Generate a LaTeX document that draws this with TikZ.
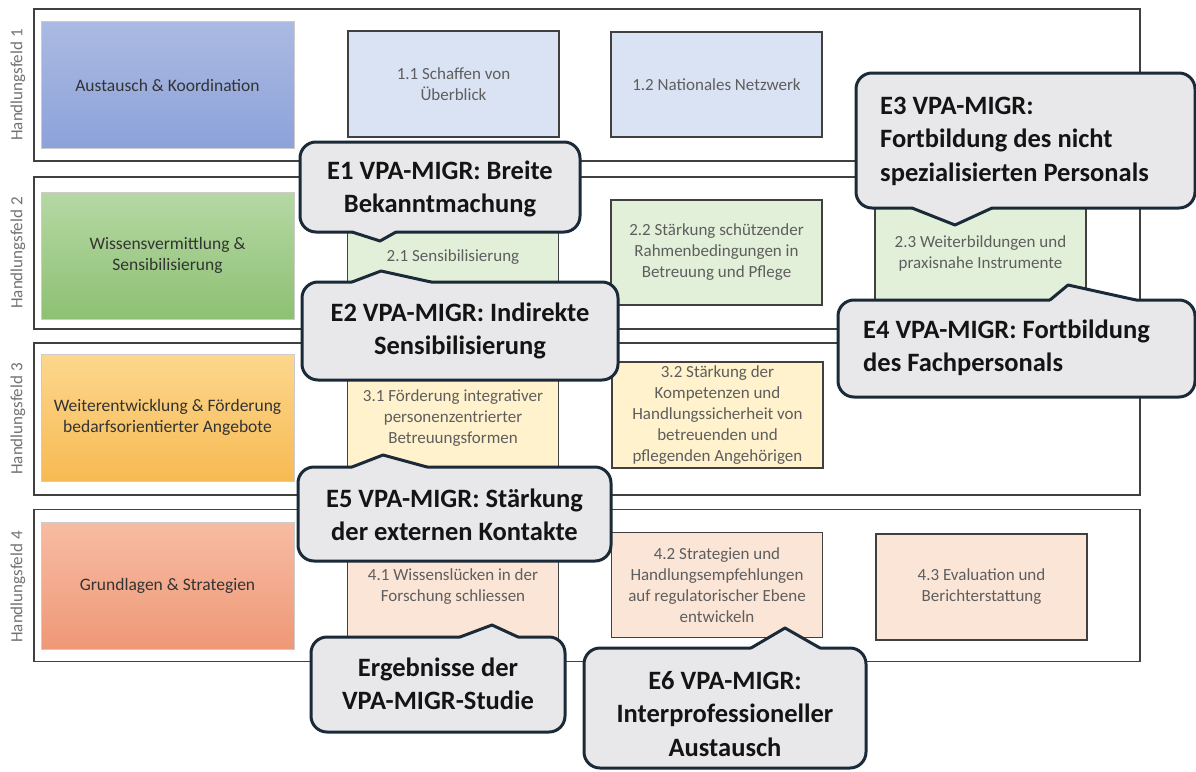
\documentclass[tikz,border=0pt]{standalone}
\usepackage{fontspec}
\setmainfont{Carlito}
\definecolor{calloutfill}{HTML}{E8E8EA}
\definecolor{calloutline}{HTML}{1B2A38}
\definecolor{frameline}{HTML}{404040}
\definecolor{subtext}{HTML}{5E5E5E}
\definecolor{cattext}{HTML}{333333}
\definecolor{bluetop}{HTML}{ABBAE2}
\definecolor{bluebot}{HTML}{8CA2D9}
\definecolor{greentop}{HTML}{B6D8A4}
\definecolor{greenbot}{HTML}{8DC173}
\definecolor{yeltop}{HTML}{FDD78E}
\definecolor{yelbot}{HTML}{F6BA52}
\definecolor{redtop}{HTML}{F7BCA3}
\definecolor{redbot}{HTML}{EF9877}
\definecolor{subblue}{HTML}{DAE3F3}
\definecolor{subgreen}{HTML}{E2F0D9}
\definecolor{subyel}{HTML}{FFF2CC}
\definecolor{subred}{HTML}{FBE5D6}
\begin{document}
\begin{tikzpicture}[x=1pt,y=-1pt,
  rowframe/.style={draw=frameline, line width=1.4pt, fill=white},
  catbox/.style={draw=black!20, line width=0.6pt, text=cattext, align=center,
     font=\fontsize{17.5}{21}\selectfont, minimum width=253pt, minimum height=127pt},
  subbox/.style={draw=frameline, line width=1.4pt, text=subtext, align=center,
     font=\fontsize{17}{21}\selectfont, minimum width=211pt, inner sep=2pt},
  rowlabel/.style={text=black!55, font=\fontsize{17}{20}\selectfont, rotate=90},
  callbox/.style={draw=calloutline, fill=calloutfill, line width=3pt, rounded corners=16pt},
  calltext/.style={text=black!92, font=\bfseries\fontsize{26.5}{33.5}\selectfont, inner sep=0pt},
  ptrline/.style={draw=calloutline, line width=3pt, line join=round, line cap=round},
]
\useasboundingbox (0,0) rectangle (1196,771);
\fill[white] (0,0) rectangle (1196,771);

% row frames
\node[rowframe, minimum width=1106pt, minimum height=152pt] (r1) at (587,85) {};
\node[rowframe, minimum width=1106pt, minimum height=152pt] (r2) at (587,253) {};
\node[rowframe, minimum width=1106pt, minimum height=152pt] (r3) at (587,419) {};
\node[rowframe, minimum width=1106pt, minimum height=152pt] (r4) at (587,585.5) {};

% row labels
\node[rowlabel] (l1) at (18,85) {Handlungsfeld 1};
\node[rowlabel] (l2) at (18,253) {Handlungsfeld 2};
\node[rowlabel] (l3) at (18,419) {Handlungsfeld 3};
\node[rowlabel] (l4) at (18,587) {Handlungsfeld 4};

% category boxes
\node[catbox, top color=bluetop, bottom color=bluebot] (c1) at (167.5,85) {Austausch \& Koordination};
\node[catbox, top color=greentop, bottom color=greenbot] (c2) at (167.5,255.5) {Wissensvermittlung \&\\Sensibilisierung};
\node[catbox, top color=yeltop, bottom color=yelbot] (c3) at (167.5,417.5) {Weiterentwicklung \& Förderung\\bedarfsorientierter Angebote};
\node[catbox, top color=redtop, bottom color=redbot] (c4) at (167.5,585.5) {Grundlagen \& Strategien};

% sub boxes
\node[subbox, fill=subblue, minimum height=106pt] (b11) at (453.5,84) {1.1 Schaffen von\\Überblick};
\node[subbox, fill=subblue, minimum height=105pt] (b12) at (716.5,84.5) {1.2 Nationales Netzwerk};
\node[subbox, fill=subgreen, minimum height=108pt] (b21) at (453,257) {2.1 Sensibilisierung};
\node[subbox, fill=subgreen, minimum height=105pt] (b22) at (716.5,252.5) {2.2 Stärkung schützender\\Rahmenbedingungen in\\Betreuung und Pflege};
\node[subbox, fill=subgreen, minimum height=105pt] (b23) at (980.5,253) {2.3 Weiterbildungen und\\praxisnahe Instrumente};
\node[subbox, fill=subyel, minimum height=110pt] (b31) at (453,418) {3.1 Förderung integrativer\\personenzentrierter\\Betreuungsformen};
\node[subbox, fill=subyel, minimum height=106pt] (b32) at (717.5,415) {3.2 Stärkung der\\Kompetenzen und\\Handlungssicherheit von\\betreuenden und\\pflegenden Angehörigen};
\node[subbox, fill=subred, minimum height=106pt] (b41) at (453,587) {4.1 Wissenslücken in der\\Forschung schliessen};
\node[subbox, fill=subred, minimum height=105pt] (b42) at (717,585) {4.2 Strategien und\\Handlungsempfehlungen\\auf regulatorischer Ebene\\entwickeln};
\node[subbox, fill=subred, minimum height=106pt] (b43) at (981.5,587) {4.3 Evaluation und\\Berichterstattung};

% ---------- callouts ----------
% E1 (pointer down)
\node[callbox, minimum width=280pt, minimum height=90pt] (e1) at (440,187) {};
\coordinate (e1a) at (352,232); \coordinate (e1p) at (380,241); \coordinate (e1b) at (396,232);
\fill[calloutfill] (352,228) -- (e1a) -- (e1p) -- (e1b) -- (396,228) -- cycle;
\draw[ptrline] (e1a) -- (e1p) -- (e1b);
\node[calltext, align=center] (e1t) at (440,189) {E1 VPA-MIGR: Breite\\Bekanntmachung};

% E2 (pointer up)
\node[callbox, minimum width=316pt, minimum height=98pt] (e2) at (460,331) {};
\coordinate (e2a) at (352,282); \coordinate (e2p) at (381,271); \coordinate (e2b) at (431,282);
\fill[calloutfill] (352,286) -- (e2a) -- (e2p) -- (e2b) -- (431,286) -- cycle;
\draw[ptrline] (e2a) -- (e2p) -- (e2b);
\node[calltext, align=center] (e2t) at (460,331) {E2 VPA-MIGR: Indirekte\\Sensibilisierung};

% E3 (pointer down)
\node[callbox, minimum width=339pt, minimum height=135pt] (e3) at (1025.5,140.5) {};
\coordinate (e3a) at (912,208); \coordinate (e3p) at (955,225); \coordinate (e3b) at (992,208);
\fill[calloutfill] (912,204) -- (e3a) -- (e3p) -- (e3b) -- (992,204) -- cycle;
\draw[ptrline] (e3a) -- (e3p) -- (e3b);
\node[calltext, align=left, anchor=west] (e3t) at (880,141) {E3 VPA-MIGR:\\Fortbildung des nicht\\spezialisierten Personals};

% E4 (pointer up, asymmetric)
\node[callbox, minimum width=357pt, minimum height=97pt] (e4) at (1016.5,348.5) {};
\coordinate (e4a) at (1050,300); \coordinate (e4p) at (1068,285); \coordinate (e4b) at (1136,300);
\fill[calloutfill] (1050,304) -- (e4a) -- (e4p) -- (e4b) -- (1136,304) -- cycle;
\draw[ptrline] (e4a) -- (e4p) -- (e4b);
\node[calltext, align=left, anchor=west] (e4t) at (863,348) {E4 VPA-MIGR: Fortbildung\\des Fachpersonals};

% E5 (pointer up)
\node[callbox, minimum width=313pt, minimum height=94pt] (e5) at (454.5,514) {};
\coordinate (e5a) at (352,467); \coordinate (e5p) at (383,455); \coordinate (e5b) at (427,467);
\fill[calloutfill] (352,471) -- (e5a) -- (e5p) -- (e5b) -- (427,471) -- cycle;
\draw[ptrline] (e5a) -- (e5p) -- (e5b);
\node[calltext, align=center] (e5t) at (454.5,515) {E5 VPA-MIGR: Stärkung\\der externen Kontakte};

% Ergebnisse (pointer up)
\node[callbox, minimum width=254pt, minimum height=95pt] (er) at (438,684.5) {};
\coordinate (era) at (460,637); \coordinate (erp) at (492,625); \coordinate (erb) at (518,637);
\fill[calloutfill] (460,641) -- (era) -- (erp) -- (erb) -- (518,641) -- cycle;
\draw[ptrline] (era) -- (erp) -- (erb);
\node[calltext, align=center] (ert) at (438,684) {Ergebnisse der\\VPA-MIGR-Studie};

% E6 (pointer up)
\node[callbox, minimum width=282pt, minimum height=120pt] (e6) at (725,708) {};
\coordinate (e6a) at (751,648); \coordinate (e6p) at (785,628); \coordinate (e6b) at (820,648);
\fill[calloutfill] (751,652) -- (e6a) -- (e6p) -- (e6b) -- (820,652) -- cycle;
\draw[ptrline] (e6a) -- (e6p) -- (e6b);
\node[calltext, align=center] (e6t) at (725,714) {E6 VPA-MIGR:\\Interprofessioneller\\Austausch};
\end{tikzpicture}
\end{document}
